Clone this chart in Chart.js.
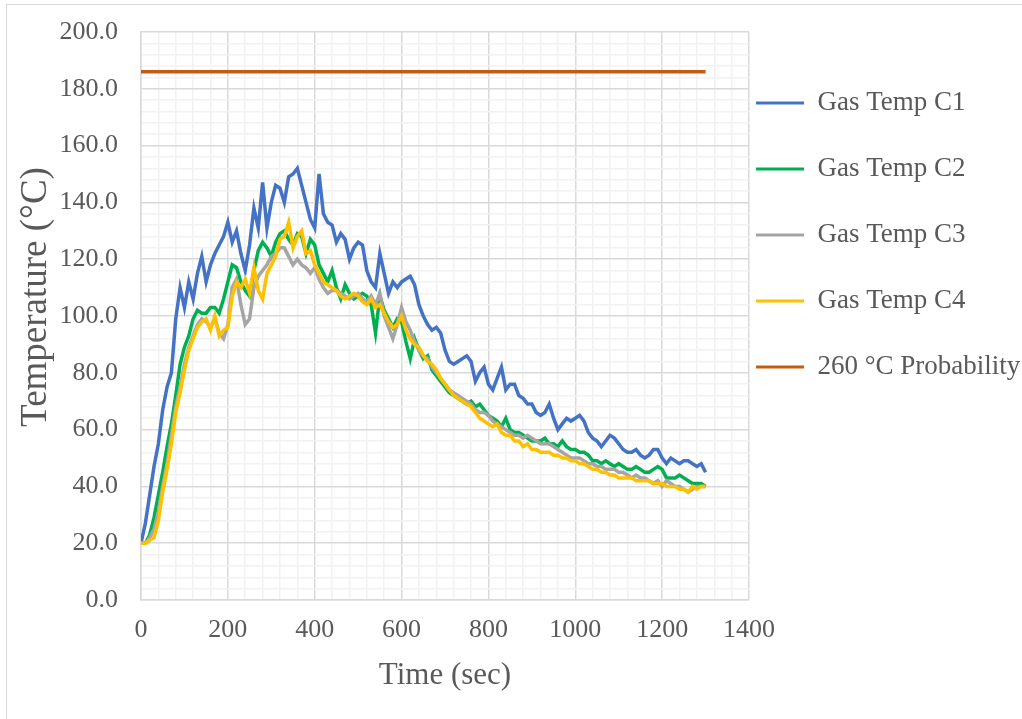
<!DOCTYPE html>
<html>
<head>
<meta charset="utf-8">
<title>Gas temperature</title>
<script src="https://cdn.jsdelivr.net/npm/chart.js@4.4.1/dist/chart.umd.min.js"></script>
<style>
  html, body { margin: 0; padding: 0; background: #ffffff; }
  #wrap { width: 1022px; height: 719px; }
</style>
</head>
<body>
<div id="wrap"><canvas id="chart" width="1022" height="719"></canvas></div>
<script>
// Sample times (s)
const timeSec = [
  0, 10, 20, 30, 40, 50, 60, 70, 80, 90,
  100, 110, 120, 130, 140, 150, 160, 170, 180, 190,
  200, 210, 220, 230, 240, 250, 260, 270, 280, 290,
  300, 310, 320, 330, 340, 350, 360, 370, 380, 390,
  400, 410, 420, 430, 440, 450, 460, 470, 480, 490,
  500, 510, 520, 530, 540, 550, 560, 570, 580, 590,
  600, 610, 620, 630, 640, 650, 660, 670, 680, 690,
  700, 710, 720, 730, 740, 750, 760, 770, 780, 790,
  800, 810, 820, 830, 840, 850, 860, 870, 880, 890,
  900, 910, 920, 930, 940, 950, 960, 970, 980, 990,
  1000, 1010, 1020, 1030, 1040, 1050, 1060, 1070, 1080, 1090,
  1100, 1110, 1120, 1130, 1140, 1150, 1160, 1170, 1180, 1190,
  1200, 1210, 1220, 1230, 1240, 1250, 1260, 1270, 1280, 1290,
  1300
];

// Gas temperatures (°C) per thermocouple
const gasTempC1 = [
  20, 27, 37, 47, 55, 67, 75, 80, 99, 110,
  103, 112, 106, 115, 121, 112, 118, 122, 125, 128,
  133, 126, 130, 122, 116, 125, 138, 131, 147, 131,
  140, 146, 145, 140, 149, 150, 152, 146, 140, 134,
  131, 150, 136, 133, 132, 126, 129, 127, 120, 124,
  126, 125, 116, 112, 110, 122, 115, 108, 112, 110,
  112, 113, 114, 111, 104, 100, 97, 95, 96, 94,
  88, 84, 83, 84, 85, 86, 84, 77, 80, 82,
  76, 74, 78, 82, 74, 76, 76, 72, 71, 69,
  69, 66, 65, 66, 69, 64, 60, 62, 64, 63,
  64, 65, 63, 59, 57, 56, 54, 56, 58, 57,
  55, 53, 52, 52, 53, 51, 50, 51, 53, 53,
  50, 48, 50, 49, 48, 49, 49, 48, 47, 48,
  45
];
const gasTempC2 = [
  20, 20, 23, 29, 37, 45, 54, 62, 72, 83,
  89, 93, 99, 102, 101, 101, 103, 103, 101, 106,
  112, 118, 117, 112, 109, 107, 116, 123, 126, 124,
  121, 126, 129, 130, 127, 125, 129, 128, 122, 127,
  125, 118, 115, 112, 116, 110, 106, 111, 108, 106,
  107, 108, 107, 104, 94, 107, 102, 99, 96, 99,
  98, 91, 85, 92, 88, 85, 86, 81, 79, 77,
  75, 73, 72, 71, 70, 69, 70, 68, 69, 67,
  65, 64, 63, 61, 64, 60, 59, 59, 58, 57,
  56, 56, 56, 57, 55, 55, 54, 56, 54, 53,
  53, 52, 52, 51, 49, 49, 48, 49, 48, 47,
  48, 47, 46, 46, 47, 46, 45, 45, 46, 47,
  46, 43, 43, 43, 44, 43, 42, 41, 41, 41,
  40
];
const gasTempC3 = [
  20, 20, 22, 25, 31, 40, 48, 58, 68, 75,
  83, 89, 93, 97, 99, 98, 96, 99, 94, 92,
  97, 110, 113, 104, 97, 99, 110, 114, 116, 118,
  121, 122, 124, 124, 121, 118, 120, 118, 117, 115,
  117, 113, 110, 108, 109, 109, 108, 107, 106, 107,
  108, 106, 105, 107, 104, 108, 100, 96, 92, 97,
  103, 98, 95, 91, 88, 86, 85, 82, 80, 78,
  76, 74, 73, 72, 71, 70, 69, 67, 66, 66,
  65, 63, 62, 61, 60, 59, 58, 58, 57, 58,
  57, 56, 55, 55, 55, 54, 53, 52, 51, 50,
  50, 50, 49, 48, 48, 47, 47, 46, 46, 46,
  45, 45, 44, 43, 44, 43, 43, 42, 41, 42,
  40, 42, 41, 40, 40, 39, 38, 39, 40, 40,
  40
];
const gasTempC4 = [
  20, 20, 21, 22, 28, 38, 46, 55, 66, 73,
  81, 88, 92, 96, 98, 99, 95, 100, 93, 95,
  96, 107, 112, 110, 113, 108, 117, 109, 106, 115,
  118, 121, 127, 128, 133, 124, 128, 130, 122, 123,
  118, 115, 112, 111, 110, 109, 107, 106, 107, 108,
  107, 105, 104, 106, 103, 104, 101, 98, 96, 97,
  100, 95, 92, 90, 89, 86, 84, 83, 81, 78,
  76, 74, 72, 71, 70, 69, 68, 66, 64, 63,
  62, 61, 62, 59, 58, 58, 56, 56, 54, 55,
  53, 53, 52, 52, 52, 51, 51, 50, 50, 49,
  49, 48, 48, 47, 46, 46, 45, 45, 44, 44,
  43, 43, 43, 43, 42, 42, 42, 42, 41, 41,
  41, 40, 40, 40, 39, 39, 38, 40, 39, 40,
  40
];

// Reference level line
const probTime = [0, 1300];
const probTemp = [186, 186];

// Axis ranges and tick steps
const xRange = [0, 1400];
const yRange = [0, 200];
const xMajorStep = 200, xMinorStep = 40;
const yMajorStep = 20, yMinorStep = 4;

const seriesNames = ['Gas Temp C1', 'Gas Temp C2', 'Gas Temp C3', 'Gas Temp C4', '260 °C Probability'];
const seriesColors = ['#4472C4', '#00B050', '#A5A5A5', '#FFC000', '#C55A11'];
const yAxisTitle = 'Temperature (°C)';

const toPoints = (xs, ys) => xs.map((x, i) => ({ x: x, y: ys[i] }));

const FONT = "'Times New Roman', 'Liberation Serif', serif";
const TEXT = '#595959';
const GRID_MAJOR = '#D9D9D9';
const GRID_MINOR = '#F2F2F2';

// Legend anchor: left edge of first swatch, centre of first item
const LEGEND_X = 756;
const LEGEND_FIRST_CENTER = 103;
const LEGEND_BOX_WIDTH = 310;
const PLOT_RIGHT = 749;

const legendPlacement = {
  id: 'legendPlacement',
  afterLayout(chart) {
    const lg = chart.legend;
    if (!lg) return;
    const pad = lg.options.labels.padding;
    const fs = lg.options.labels.font.size;
    const w = lg.width;
    lg.left = LEGEND_X - pad;
    lg.right = lg.left + w;
    lg.top = LEGEND_FIRST_CENTER - fs / 2 - pad;
    lg.bottom = chart.height;
  }
};

// White background and the light outer frame
const outerFrame = {
  id: 'outerFrame',
  beforeDraw(chart) {
    const ctx = chart.ctx;
    ctx.save();
    ctx.fillStyle = '#ffffff';
    ctx.fillRect(0, 0, chart.width, chart.height);
    ctx.strokeStyle = '#D9D9D9';
    ctx.lineWidth = 1;
    ctx.strokeRect(6.5, 4.5, chart.width + 20, chart.height + 20);
    ctx.restore();
  }
};

// Vertical value-axis title, set a little above the plot's mid-height
const yTitle = {
  id: 'yTitle',
  afterDraw(chart) {
    const ctx = chart.ctx;
    ctx.save();
    ctx.translate(36, 297);
    ctx.rotate(-Math.PI / 2);
    ctx.font = '37px ' + FONT;
    ctx.fillStyle = TEXT;
    ctx.textAlign = 'center';
    ctx.textBaseline = 'middle';
    ctx.fillText(yAxisTitle, 0, 0);
    ctx.restore();
  }
};

const lineSet = (i, pts, order) => ({
  label: seriesNames[i],
  data: pts,
  borderColor: seriesColors[i],
  backgroundColor: seriesColors[i],
  borderWidth: 3.5,
  pointRadius: 0,
  tension: 0,
  fill: false,
  order: order
});

new Chart(document.getElementById('chart'), {
  type: 'line',
  data: {
    datasets: [
      lineSet(0, toPoints(timeSec, gasTempC1), 5),
      lineSet(1, toPoints(timeSec, gasTempC2), 4),
      lineSet(2, toPoints(timeSec, gasTempC3), 3),
      lineSet(3, toPoints(timeSec, gasTempC4), 2),
      lineSet(4, toPoints(probTime, probTemp), 1)
    ]
  },
  options: {
    responsive: false,
    animation: false,
    events: [],
    // negative right padding lets the wide legend box sit past the canvas edge
    layout: { padding: { top: 32, left: 0, right: 1022 - PLOT_RIGHT - LEGEND_BOX_WIDTH, bottom: 0 } },
    plugins: {
      tooltip: { enabled: false },
      legend: {
        position: 'right',
        align: 'start',
        maxWidth: LEGEND_BOX_WIDTH,
        labels: {
          color: TEXT,
          font: { family: FONT, size: 27 },
          boxWidth: 48,
          boxHeight: 3,
          padding: 39,
          sort: (a, b) => a.datasetIndex - b.datasetIndex,
          generateLabels(chart) {
            const items = Chart.defaults.plugins.legend.labels.generateLabels(chart);
            items.forEach(it => { it.lineWidth = 0; it.fillStyle = seriesColors[it.datasetIndex]; });
            return items;
          }
        }
      }
    },
    scales: {
      x: {
        type: 'linear',
        min: xRange[0],
        max: xRange[1],
        afterFit(scale) { scale.height = 119; scale.paddingLeft = 0; scale.paddingRight = 0; },
        ticks: {
          stepSize: xMinorStep,
          autoSkip: false,
          maxRotation: 0,
          padding: 15,
          color: TEXT,
          font: { family: FONT, size: 26 },
          callback: v => (v % xMajorStep === 0 ? String(v) : '')
        },
        grid: {
          drawTicks: false,
          lineWidth: 1.5,
          color: c => (c.tick && c.tick.value % xMajorStep === 0 ? GRID_MAJOR : GRID_MINOR)
        },
        border: { display: true, color: '#D9D9D9', width: 1.5 },
        title: {
          display: true,
          text: 'Time (sec)',
          color: TEXT,
          font: { family: FONT, size: 31 },
          padding: { top: 0, bottom: 25 }
        }
      },
      y: {
        type: 'linear',
        min: yRange[0],
        max: yRange[1],
        afterFit(scale) { scale.width = 141; scale.paddingTop = 0; scale.paddingBottom = 0; },
        ticks: {
          stepSize: yMinorStep,
          autoSkip: false,
          padding: 23,
          color: TEXT,
          font: { family: FONT, size: 26 },
          callback: v => (v % yMajorStep === 0 ? v.toFixed(1) : '')
        },
        grid: {
          drawTicks: false,
          lineWidth: 1.5,
          color: c => (c.tick && c.tick.value % yMajorStep === 0 ? GRID_MAJOR : GRID_MINOR)
        },
        border: { display: true, color: '#D9D9D9', width: 1.5 },
        title: { display: false }
      }
    }
  },
  plugins: [outerFrame, legendPlacement, yTitle]
});
</script>
</body>
</html>
